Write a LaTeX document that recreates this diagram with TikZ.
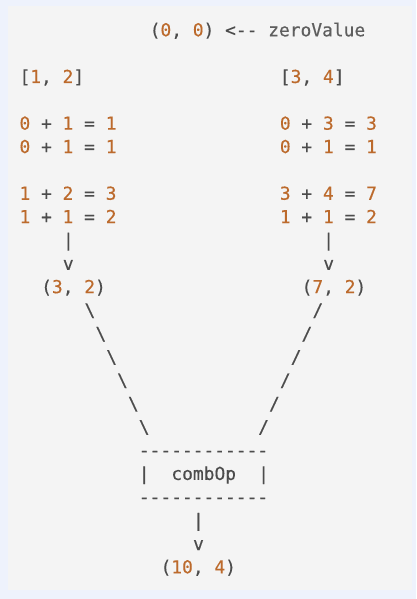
\documentclass[tikz,border=0pt]{standalone}
\usepackage{fontspec}
\setmonofont{DejaVu Sans Mono}[FakeBold=0.35]
\definecolor{outerbg}{HTML}{EEF2FC}
\definecolor{panelbg}{HTML}{F4F4F4}
\definecolor{numc}{HTML}{BC6A2C}
\definecolor{opc}{HTML}{4C4C4C}
\definecolor{idc}{HTML}{5E5E5E}
\newcommand\nm[1]{\textcolor{numc}{#1}}
\newcommand\Xc[1]{19.5+10.85*#1}
\newcommand\Yl[1]{36.3+23.35*#1}
\tikzset{
  txt/.style={anchor=base west, inner sep=0pt, outer sep=0pt, text=opc,
    font=\ttfamily\fontsize{17.9}{20}\selectfont},
}
\begin{document}
\begin{tikzpicture}[x=1pt,y=-1pt]
\useasboundingbox (0,0) rectangle (416,599);
\fill[outerbg] (0,0) rectangle (416,599);
\fill[panelbg] (8,6) rectangle (412,590);

\node[txt] (zero) at ({\Xc{12}},{\Yl{0}}) {(\nm{0}, \nm{0}) <-- \textcolor{idc}{zeroValue}};

\node[txt] (inA) at ({\Xc{0}},{\Yl{2}}) {[\nm{1}, \nm{2}]};
\node[txt] (inB) at ({\Xc{24}},{\Yl{2}}) {[\nm{3}, \nm{4}]};

\node[txt] (a1) at ({\Xc{0}},{\Yl{4}}) {\nm{0} + \nm{1} = \nm{1}};
\node[txt] (a2) at ({\Xc{0}},{\Yl{5}}) {\nm{0} + \nm{1} = \nm{1}};
\node[txt] (a3) at ({\Xc{0}},{\Yl{7}}) {\nm{1} + \nm{2} = \nm{3}};
\node[txt] (a4) at ({\Xc{0}},{\Yl{8}}) {\nm{1} + \nm{1} = \nm{2}};

\node[txt] (b1) at ({\Xc{24}},{\Yl{4}}) {\nm{0} + \nm{3} = \nm{3}};
\node[txt] (b2) at ({\Xc{24}},{\Yl{5}}) {\nm{0} + \nm{1} = \nm{1}};
\node[txt] (b3) at ({\Xc{24}},{\Yl{7}}) {\nm{3} + \nm{4} = \nm{7}};
\node[txt] (b4) at ({\Xc{24}},{\Yl{8}}) {\nm{1} + \nm{1} = \nm{2}};

\node[txt] (abar) at ({\Xc{4}},{\Yl{9}}) {|};
\node[txt] (av) at ({\Xc{4}},{\Yl{10}}) {v};
\node[txt] (bbar) at ({\Xc{28}},{\Yl{9}}) {|};
\node[txt] (bv) at ({\Xc{28}},{\Yl{10}}) {v};

\node[txt] (resA) at ({\Xc{2}},{\Yl{11}}) {(\nm{3}, \nm{2})};
\node[txt] (resB) at ({\Xc{26}},{\Yl{11}}) {(\nm{7}, \nm{2})};

\foreach \i in {0,...,5}{
  \node[txt] (bs\i) at ({\Xc{(6+\i)}},{\Yl{(12+\i)}}) {\textbackslash};
  \node[txt] (fs\i) at ({\Xc{(27-\i)}},{\Yl{(12+\i)}}) {/};
}

\node[txt] (topdash) at ({\Xc{11}},{\Yl{18}}) {------------};
\node[txt] (lbar) at ({\Xc{11}},{\Yl{19}}) {|};
\node[txt] (comb) at ({\Xc{14}},{\Yl{19}}) {combOp};
\node[txt] (rbar) at ({\Xc{22}},{\Yl{19}}) {|};
\node[txt] (botdash) at ({\Xc{11}},{\Yl{20}}) {------------};

\node[txt] (cbar) at ({\Xc{16}},{\Yl{21}}) {|};
\node[txt] (cv) at ({\Xc{16}},{\Yl{22}}) {v};
\node[txt] (final) at ({\Xc{13}},{\Yl{23}}) {(\nm{10}, \nm{4})};
\end{tikzpicture}
\end{document}
